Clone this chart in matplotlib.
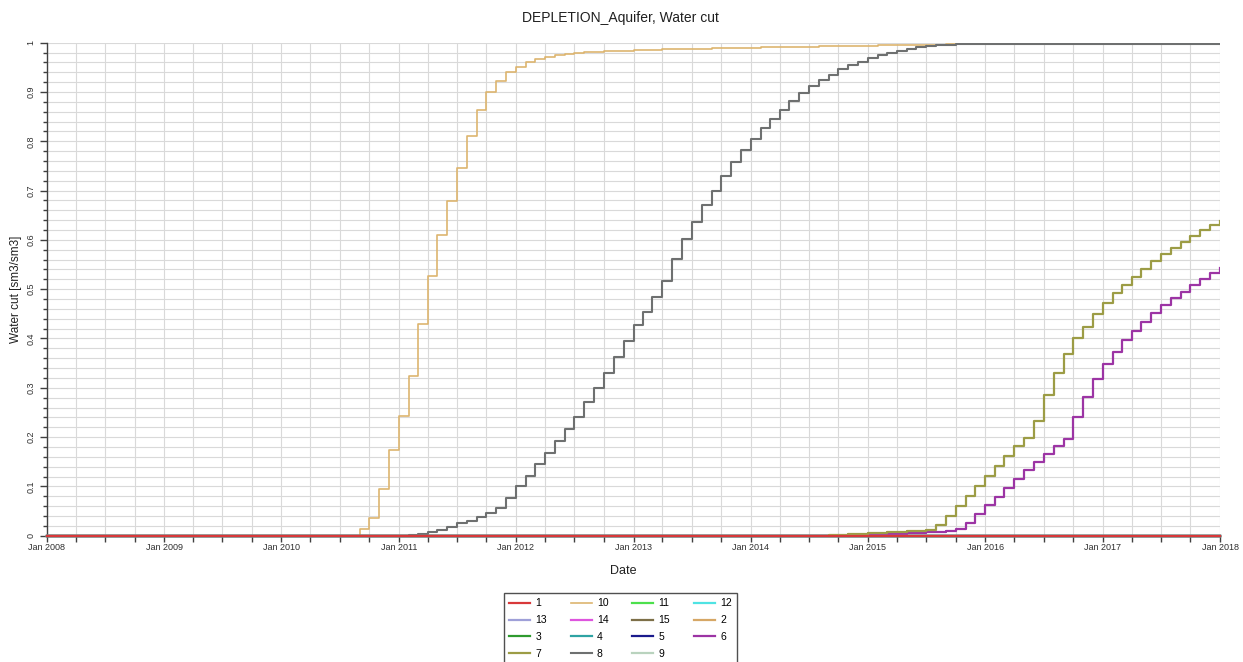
import numpy as np
import matplotlib
matplotlib.use('Agg')
import matplotlib.pyplot as plt
import matplotlib.dates as mdates
from matplotlib.ticker import MultipleLocator

plt.rcParams['font.family'] = ['Liberation Sans', 'DejaVu Sans']

# 月度时间轴：2008-01 到 2018-01
months = np.arange('2008-01', '2018-02', dtype='datetime64[M]').astype('datetime64[D]')

# 各井含水率（从起始月份开始的逐月数值，之前为 0）
wc10_start = 32
wc10 = [0.013, 0.035, 0.095, 0.174, 0.243, 0.323, 0.429, 0.527, 0.609, 0.679, 0.746, 0.811,
        0.864, 0.901, 0.923, 0.940, 0.951, 0.960, 0.966, 0.972, 0.976, 0.978, 0.980, 0.981,
        0.982, 0.983, 0.984, 0.984, 0.985, 0.986, 0.986, 0.987, 0.987, 0.988, 0.988, 0.988,
        0.989, 0.989, 0.990, 0.990, 0.990, 0.991, 0.991, 0.991, 0.992, 0.992, 0.992, 0.993,
        0.993, 0.993, 0.994, 0.994, 0.994, 0.995, 0.995, 0.995, 0.996, 0.996, 0.996, 0.996,
        0.997, 0.997, 0.997, 0.997, 0.997, 0.997, 0.997, 0.997, 0.997, 0.997, 0.997, 0.997,
        0.997, 0.997, 0.997, 0.997, 0.998, 0.998, 0.998, 0.998, 0.998, 0.998, 0.998, 0.998,
        0.998, 0.998, 0.998, 0.998, 0.998]

wc8_start = 37
wc8 = [0.001, 0.003, 0.007, 0.012, 0.018, 0.025, 0.030, 0.038, 0.047, 0.057, 0.076,
       0.101, 0.122, 0.145, 0.168, 0.192, 0.216, 0.241, 0.272, 0.299, 0.331, 0.362, 0.395,
       0.427, 0.454, 0.485, 0.517, 0.561, 0.601, 0.637, 0.671, 0.700, 0.730, 0.757, 0.782,
       0.805, 0.826, 0.845, 0.864, 0.882, 0.897, 0.913, 0.924, 0.935, 0.946, 0.955, 0.961,
       0.968, 0.975, 0.980, 0.984, 0.987, 0.991, 0.993, 0.995, 0.996, 0.997, 0.997, 0.997,
       0.997, 0.997, 0.997, 0.997, 0.997, 0.997, 0.997, 0.997, 0.998, 0.998, 0.998, 0.998,
       0.998, 0.998, 0.998, 0.998, 0.998, 0.998, 0.998, 0.998, 0.998, 0.998, 0.998, 0.998,
       0.998]

wc7_start = 80
wc7 = [0.001, 0.002, 0.003, 0.004, 0.005, 0.006, 0.007, 0.008, 0.009, 0.010, 0.012,
       0.021, 0.040, 0.060, 0.080, 0.101, 0.122, 0.142, 0.162, 0.181, 0.199, 0.233, 0.285,
       0.331, 0.368, 0.400, 0.424, 0.449, 0.473, 0.492, 0.509, 0.525, 0.541, 0.557, 0.571,
       0.584, 0.596, 0.608, 0.620, 0.630, 0.639]

wc6_start = 82
wc6 = [0.001, 0.002, 0.002, 0.003, 0.004, 0.004, 0.005, 0.006, 0.007, 0.008, 0.009,
       0.014, 0.026, 0.044, 0.063, 0.079, 0.097, 0.115, 0.133, 0.150, 0.166, 0.182, 0.196,
       0.240, 0.281, 0.317, 0.348, 0.373, 0.396, 0.416, 0.434, 0.452, 0.468, 0.482, 0.495,
       0.509, 0.521, 0.532, 0.542]

well_names = ['1', '10', '11', '12', '13', '14', '15', '2', '3', '4', '5', '6', '7', '8', '9']
well_colors = ['#D8383A', '#DDB56F', '#4CE04C', '#4FE3E3', '#9FA0D8', '#DE55DE', '#7D6F48',
               '#D6A766', '#2E9A2E', '#2EA3A3', '#1A1A8C', '#9C34A4', '#9C9C45', '#6E7070',
               '#B9D3BE']


def full_series(start, vals):
    """前面补零，得到完整的逐月序列"""
    return np.concatenate([np.zeros(start), np.array(vals)])


curves = {
    '10': full_series(wc10_start, wc10),
    '8': full_series(wc8_start, wc8),
    '7': full_series(wc7_start, wc7),
    '6': full_series(wc6_start, wc6),
}
widths = {'10': 1.2, '8': 1.5, '7': 1.6, '6': 1.6}

fig = plt.figure(figsize=(12.43, 6.62), dpi=100)
ax = fig.add_axes([0.03757, 0.19079, 0.94393, 0.74471])

handles = {}
for name, color in zip(well_names, well_colors):
    y = curves.get(name, np.zeros(len(months)))
    z = 5 if name == '1' else 3
    lw = widths.get(name, 1.6)
    # 全为 0 的井画在 x 轴上，不裁剪
    line, = ax.plot(months, y, drawstyle='steps-post', color=color, lw=lw, zorder=z,
                    label=name, clip_on=(name in curves))
    handles[name] = line

# 坐标轴
ax.set_xlim(np.datetime64('2008-01-01'), np.datetime64('2018-01-01'))
ax.set_ylim(0, 1)
ax.xaxis.set_major_locator(mdates.YearLocator())
ax.xaxis.set_minor_locator(mdates.MonthLocator(bymonth=[1, 4, 7, 10]))
ax.xaxis.set_major_formatter(mdates.DateFormatter('Jan %Y'))
ax.yaxis.set_major_locator(MultipleLocator(0.1))
ax.yaxis.set_minor_locator(MultipleLocator(0.02))
ax.yaxis.set_major_formatter(plt.FuncFormatter(lambda v, p: f'{v:g}'))

ax.grid(True, which='both', color='#D9D9D9', lw=0.8)
ax.set_axisbelow(True)
for s in ['top', 'right']:
    ax.spines[s].set_visible(False)
for s in ['left', 'bottom']:
    ax.spines[s].set_color('#404040')
    ax.spines[s].set_linewidth(1.0)

ax.tick_params(axis='x', which='major', length=4, width=1, color='#404040',
               labelsize=6.5, pad=1.5, labelcolor='#303030')
ax.tick_params(axis='x', which='minor', length=4, width=1, color='#404040')
ax.tick_params(axis='y', which='major', length=5, width=1, color='#404040',
               labelsize=6.5, pad=3, labelcolor='#303030', labelrotation=90)
ax.tick_params(axis='y', which='minor', length=3, width=1, color='#404040')
for lbl in ax.get_yticklabels():
    lbl.set_va('center')

ax.set_xlabel('Date', fontsize=9, color='#202020')
ax.xaxis.set_label_coords(0.4915, -0.0594)
ax.set_ylabel('Water cut [sm3/sm3]', fontsize=8.5, color='#202020')
ax.yaxis.set_label_coords(-0.021, 0.5)

fig.text(0.4988, 0.9728, 'DEPLETION_Aquifer, Water cut', ha='center', va='center',
         fontsize=10, color='#202020')

# 图例按行排列：4 列
order = [i for j in range(4) for i in range(j, len(well_names), 4)]
leg = fig.legend([handles[well_names[i]] for i in order], [well_names[i] for i in order],
                 loc='upper center', bbox_to_anchor=(620.5 / 1243, 1 - 588 / 662), ncol=4,
                 fontsize=7.5, frameon=True, fancybox=False, framealpha=1,
                 handlelength=2.0, handletextpad=0.5, columnspacing=2.3, labelspacing=0.65,
                 borderpad=0.5)
leg.get_frame().set_edgecolor('#505050')
leg.get_frame().set_linewidth(1.0)

fig.savefig('out.png', dpi=100)
